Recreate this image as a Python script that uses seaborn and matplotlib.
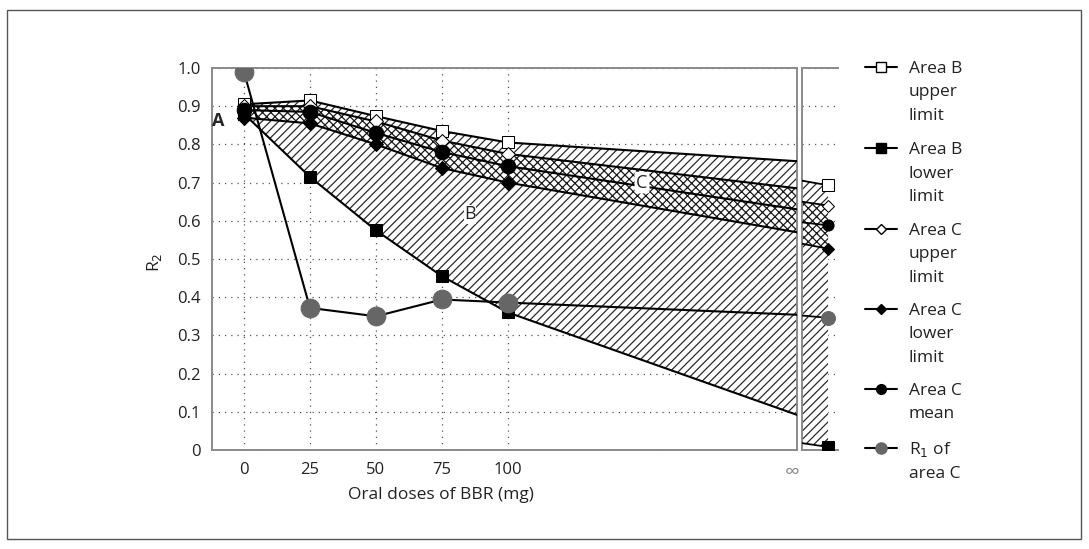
import matplotlib
matplotlib.use("Agg")
import matplotlib.pyplot as plt
import seaborn as sns
from matplotlib.lines import Line2D
from matplotlib.patches import Rectangle

# ---------------- data ----------------
doses = [0, 25, 50, 75, 100]
x_tick_labels = ["0", "25", "50", "75", "100", "\u221e"]
y_ticks = [0, 0.1, 0.2, 0.3, 0.4, 0.5, 0.6, 0.7, 0.8, 0.9, 1.0]
y_tick_labels = ["0", "0.1", "0.2", "0.3", "0.4", "0.5", "0.6", "0.7", "0.8", "0.9", "1.0"]

b_upper = [0.905, 0.915, 0.874, 0.835, 0.805]
b_lower = [0.880, 0.715, 0.575, 0.455, 0.360]
c_upper = [0.900, 0.900, 0.860, 0.810, 0.775]
c_lower = [0.870, 0.855, 0.800, 0.738, 0.700]
c_mean = [0.890, 0.885, 0.830, 0.780, 0.743]
r1_c = [0.990, 0.372, 0.350, 0.394, 0.386]

# value of each line where it leaves the finite-dose panel (towards infinity)
edge_b_upper = 0.756
edge_b_lower = 0.092
edge_c_upper = 0.685
edge_c_lower = 0.570
edge_c_mean = 0.630
edge_r1_c = 0.354

# infinity panel: [value at panel entry, value at infinity]
inf_b_upper = [0.705, 0.693]
inf_b_lower = [0.018, 0.008]
inf_c_upper = [0.650, 0.640]
inf_c_lower = [0.540, 0.527]
inf_c_mean = [0.596, 0.588]
inf_r1_c = [0.352, 0.346]

legend_labels = [
    ["Area B", "upper", "limit"],
    ["Area B", "lower", "limit"],
    ["Area C", "upper", "limit"],
    ["Area C", "lower", "limit"],
    ["Area C", "mean"],
    ["R$_1$ of", "area C"],
]

# ---------------- style ----------------
sns.set_style("white")
plt.rcParams["font.family"] = ["Open Sans", "DejaVu Sans"]
plt.rcParams["hatch.linewidth"] = 0.9

W, H = 1089, 549
fig = plt.figure(figsize=(W / 100, H / 100), dpi=100)


def fx(px):
    return px / W


def fy(py):
    return 1 - py / H


X_INF = 209.5  # right edge of the finite panel stands for infinity
ax = fig.add_axes([fx(212), fy(450), fx(797) - fx(212), fy(68) - fy(450)])
ax2 = fig.add_axes([fx(802), fy(450), fx(838) - fx(802), fy(68) - fy(450)])

spine_col = "#8a8a8a"
grid_kw = dict(color="#555555", linestyle=(0, (1, 4)), linewidth=0.9)

# ---------- main panel ----------
xs = doses + [X_INF]


def ext(vals, edge):
    return list(vals) + [edge]


ax.fill_between(xs, ext(b_lower, edge_b_lower), ext(b_upper, edge_b_upper),
                facecolor="white", edgecolor="#2a2a2a", hatch="////",
                linewidth=0, zorder=1)
ax.fill_between(xs, ext(c_lower, edge_c_lower), ext(c_upper, edge_c_upper),
                facecolor="white", edgecolor="#1a1a1a", hatch="xxxx",
                linewidth=0, zorder=1.5)

series = [
    (b_upper, edge_b_upper, inf_b_upper, dict(marker="s", ms=8.5, mfc="white", mec="black"), 8, "black"),
    (c_upper, edge_c_upper, inf_c_upper, dict(marker="D", ms=7, mfc="white", mec="black"), 6, "black"),
    (c_mean, edge_c_mean, inf_c_mean, dict(marker="o", ms=10.5, mfc="black", mec="black"), 8, "black"),
    (c_lower, edge_c_lower, inf_c_lower, dict(marker="D", ms=7, mfc="black", mec="black"), 6, "black"),
    (b_lower, edge_b_lower, inf_b_lower, dict(marker="s", ms=8.5, mfc="black", mec="black"), 8, "black"),
    (r1_c, edge_r1_c, inf_r1_c, dict(marker="o", ms=13.5, mfc="#666666", mec="#666666"), 10, "#666666"),
]

for i, (vals, edge, infv, mk, ms2, mcol) in enumerate(series):
    sns.lineplot(x=xs, y=ext(vals, edge), ax=ax, color="black", linewidth=1.5,
                 markevery=list(range(len(doses))), zorder=3 + i, sort=False, **mk)

ax.set_xlim(-12.1, X_INF)
ax.set_ylim(0, 1.0)
ax.set_xticks(doses + [207.5])
ax.set_xticklabels(x_tick_labels)
ax.set_yticks(y_ticks)
ax.set_yticklabels(y_tick_labels)
ax.tick_params(axis="both", length=0, labelsize=12, colors="#222222")
ax.tick_params(axis="y", pad=8)
ax.tick_params(axis="x", pad=9)
ax.grid(True, **grid_kw)
ax.xaxis.get_major_ticks()[-1].gridline.set_visible(False)
inf_lab = ax.get_xticklabels()[-1]
inf_lab.set_color("#888888")
inf_lab.set_fontsize(15)
for s in ax.spines.values():
    s.set_color(spine_col)
    s.set_linewidth(1.4)
ax.set_axisbelow(True)

ax.text(-9.8, 0.861, "A", fontsize=13, fontweight="bold", ha="center", va="center", zorder=12)
ax.text(85.6, 0.617, "B", fontsize=13, ha="center", va="center", zorder=12,
        bbox=dict(facecolor="white", edgecolor="none", pad=0.3))
ax.text(150.8, 0.700, "C", fontsize=13, ha="center", va="center", zorder=12,
        bbox=dict(facecolor="white", edgecolor="none", pad=0.3, boxstyle="round,pad=0.1"))

# ---------- infinity panel ----------
xi = [0, 1]
ax2.fill_between(xi, inf_b_lower, inf_b_upper, facecolor="white", edgecolor="#2a2a2a",
                 hatch="////", linewidth=0, zorder=1)
ax2.fill_between(xi, inf_c_lower, inf_c_upper, facecolor="white", edgecolor="#1a1a1a",
                 hatch="xxxx", linewidth=0, zorder=1.5)
for i, (vals, edge, infv, mk, ms2, mcol) in enumerate(series):
    mk2 = dict(mk)
    mk2["ms"] = ms2
    sns.lineplot(x=xi, y=infv, ax=ax2, color="black", linewidth=1.3,
                 markevery=[1], zorder=3 + i, sort=False, **mk2)
ax2.set_xlim(0, 1.38)
ax2.set_ylim(0, 1.0)
ax2.set_xticks([])
ax2.set_yticks(y_ticks)
ax2.set_yticklabels([])
ax2.tick_params(length=0)
ax2.grid(True, axis="y", **grid_kw)
ax2.set_axisbelow(True)
ax2.spines["right"].set_visible(False)
for s in ["left", "top", "bottom"]:
    ax2.spines[s].set_color(spine_col)
    ax2.spines[s].set_linewidth(1.4)
ax2.set_xlabel("")
ax2.set_ylabel("")

# ---------- axis labels ----------
ax.set_xlabel("")
ax.set_ylabel("")
fig.text(fx(441), fy(495), "Oral doses of BBR (mg)", fontsize=12.5, ha="center", va="center",
         color="#222222")
fig.text(fx(154), fy(262), "R$_2$", fontsize=12.5, rotation=90, ha="center", va="center",
         color="#222222")

# ---------- legend (manual, handles aligned with first label line) ----------
handle_y = [67, 148, 229, 309, 389, 448]
leg_styles = [
    dict(marker="s", ms=7, mfc="white", mec="black", color="black"),
    dict(marker="s", ms=7, mfc="black", mec="black", color="black"),
    dict(marker="D", ms=5.5, mfc="white", mec="black", color="black"),
    dict(marker="D", ms=5.5, mfc="black", mec="black", color="black"),
    dict(marker="o", ms=7, mfc="black", mec="black", color="black"),
    dict(marker="o", ms=8, mfc="#666666", mec="#666666", color="black"),
]
for hy, lab, st in zip(handle_y, legend_labels, leg_styles):
    fig.add_artist(Line2D([fx(865), fx(881), fx(897)], [fy(hy)] * 3, transform=fig.transFigure,
                          linewidth=1.5, markevery=[1], **st))
    for k, line in enumerate(lab):
        fig.text(fx(909), fy(hy + 6 + 23.5 * k), line, fontsize=12.5, ha="left", va="baseline",
                 color="#222222")

# ---------- outer frame ----------
fig.add_artist(Rectangle((fx(7), fy(539)), fx(1081) - fx(7), fy(10) - fy(539),
                         transform=fig.transFigure, fill=False, edgecolor="#555555", linewidth=1))

fig.savefig("out.png", dpi=100)
